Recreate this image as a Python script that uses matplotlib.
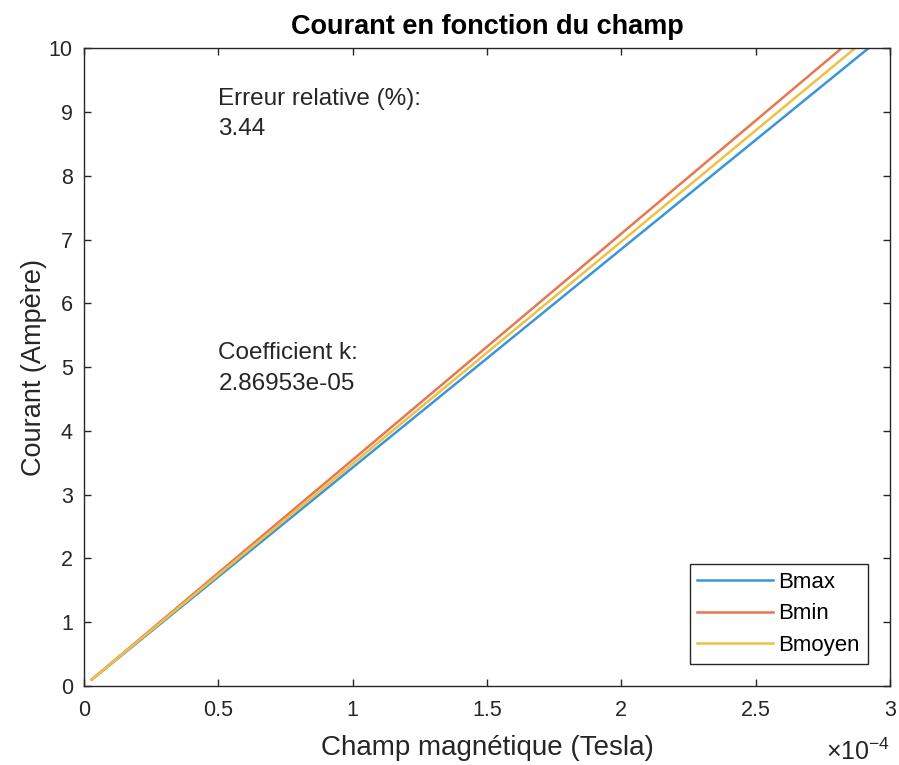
import matplotlib.pyplot as plt
from matplotlib.ticker import FuncFormatter

plt.rcParams['font.family'] = ['Liberation Sans', 'DejaVu Sans']
plt.rcParams['mathtext.fontset'] = 'custom'
plt.rcParams['mathtext.rm'] = 'Liberation Sans'
plt.rcParams['mathtext.it'] = 'Liberation Sans'

# courant (A) et champ magnétique mesuré (T)
courant = [0.1, 2, 4, 6, 8, 10]
b_max = [0.0292e-4, 0.584e-4, 1.168e-4, 1.752e-4, 2.336e-4, 2.920e-4]
b_min = [0.0282e-4, 0.564e-4, 1.128e-4, 1.692e-4, 2.256e-4, 2.820e-4]
b_moyen = [0.0287e-4, 0.574e-4, 1.148e-4, 1.722e-4, 2.296e-4, 2.870e-4]

erreur_rel = 3.44
coeff_k = 2.86953e-05

grey = '#262626'

fig = plt.figure(figsize=(8.99, 7.65), dpi=100)
ax = fig.add_axes([0.0934, 0.1033, 0.8966, 0.8337])

ax.plot(b_max, courant, color='#3a96d8', lw=1.8, label='Bmax')
ax.plot(b_min, courant, color='#e5784f', lw=1.8, label='Bmin')
ax.plot(b_moyen, courant, color='#f0bf45', lw=1.8, label='Bmoyen')

ax.set_xlim(0, 3e-4)
ax.set_ylim(0, 10)
ax.set_xticks([0, 0.5e-4, 1e-4, 1.5e-4, 2e-4, 2.5e-4, 3e-4])
ax.set_yticks(range(0, 11))
# graduations en unités de 1e-4, le facteur est écrit à part
ax.xaxis.set_major_formatter(FuncFormatter(lambda v, p: f'{v * 1e4:g}'))
fig.text(0.919, 0.006, r'$\times10^{-4}$', fontsize=18, color=grey,
         ha='left', va='baseline')

ax.tick_params(direction='in', top=True, right=True, labelsize=15.5,
               colors=grey, length=5, width=1, pad=8)
ax.tick_params(axis='x', pad=10)
for s in ax.spines.values():
    s.set_color(grey)
    s.set_linewidth(1)

ax.set_title('Courant en fonction du champ', fontsize=19.5, fontweight='bold', pad=10)
ax.set_xlabel('Champ magnétique (Tesla)', fontsize=20, color=grey, labelpad=10)
ax.set_ylabel('Courant (Ampère)', fontsize=19.5, color=grey, labelpad=1)

ax.text(0.5e-4, 8.97, 'Erreur relative (%):\n' + f'{erreur_rel:.2f}',
        fontsize=17.5, va='center', ha='left', color=grey, linespacing=1.5)
ax.text(0.5e-4, 4.98, 'Coefficient k:\n' + f'{coeff_k:g}',
        fontsize=17.5, va='center', ha='left', color=grey, linespacing=1.5)

leg = ax.legend(loc='lower right', fontsize=16, handlelength=3.4,
                fancybox=False, framealpha=1, borderaxespad=1.0,
                borderpad=0.35, labelspacing=0.48, handletextpad=0.25)
leg.get_frame().set_edgecolor(grey)
leg.get_frame().set_linewidth(1)

fig.savefig('out.png', dpi=100)
